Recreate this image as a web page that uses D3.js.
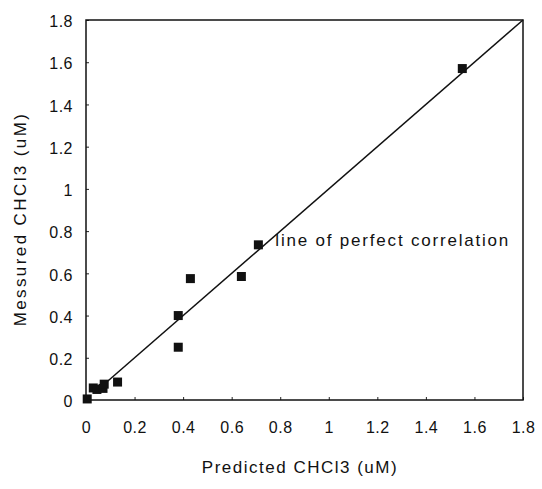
<!DOCTYPE html>
<html>
<head>
<meta charset="utf-8">
<script src="https://cdn.jsdelivr.net/npm/d3@7"></script>
<style>
  body { margin: 0; background: #fff; }
  text { font-family: "Liberation Sans", Arial, sans-serif; fill: #111; }
</style>
</head>
<body>
<div class="container"></div>
<script>
// data
const predicted = [0.005, 0.03, 0.045, 0.07, 0.075, 0.13, 0.38, 0.38, 0.43, 0.64, 0.71, 1.55];
const measured  = [0.005, 0.057, 0.05, 0.055, 0.075, 0.085, 0.40, 0.25, 0.575, 0.585, 0.735, 1.57];
const tickValues = [0, 0.2, 0.4, 0.6, 0.8, 1, 1.2, 1.4, 1.6, 1.8];
const perfectLine = [0.07, 1.8];

const margin = { top: 20, right: 19, bottom: 89, left: 86 };
const width = 542 - margin.left - margin.right;
const hight = 489 - margin.top - margin.bottom;

const canvas = d3.select('.container').append('svg')
    .attr('width', 542)
    .attr('height', 489);

const group = canvas.append('g')
    .attr('transform', `translate(${margin.left}, ${margin.top})`);

// scales
const xScale = d3.scaleLinear().domain([0, 1.8]).range([0, width]);
const yScale = d3.scaleLinear().domain([0, 1.8]).range([hight, 0]);

const fmt = d => d3.format('~g')(d);

// axes, ticks point inward
const xAxis = d3.axisBottom(xScale).tickValues(tickValues).tickSizeInner(-3).tickSizeOuter(0).tickPadding(22).tickFormat(fmt);
const yAxis = d3.axisLeft(yScale).tickValues(tickValues).tickSizeInner(-3).tickSizeOuter(0).tickPadding(13).tickFormat(fmt);

const gx = group.append('g')
    .attr('transform', `translate(0, ${hight})`)
    .call(xAxis);
const gy = group.append('g').call(yAxis);

[gx, gy].forEach(g => {
    g.select('.domain').remove();
    g.selectAll('line').attr('stroke', '#222');
    g.selectAll('text')
        .style('font-size', '16px')
        .style('letter-spacing', '0.5px')
        .attr('fill', '#111');
});
gy.selectAll('text').attr('dy', '0.42em');

// frame
group.append('rect')
    .attr('width', width)
    .attr('height', hight)
    .attr('fill', 'none')
    .attr('stroke', '#111')
    .attr('stroke-width', 1.5);

// line of perfect correlation
group.append('line')
    .attr('x1', xScale(perfectLine[0]))
    .attr('y1', yScale(perfectLine[0]))
    .attr('x2', xScale(perfectLine[1]))
    .attr('y2', yScale(perfectLine[1]))
    .attr('stroke', '#111')
    .attr('stroke-width', 1.5);

group.append('text')
    .attr('x', xScale(0.78))
    .attr('y', yScale(0.735) + 1)
    .style('font-size', '17px')
    .style('letter-spacing', '1.8px')
    .text('line of perfect correlation');

// points
const pts = predicted.map((p, i) => ({ x: p, y: measured[i] }));
const s = 9;
group.selectAll('rect.dot')
    .data(pts)
    .enter()
    .append('rect')
    .attr('class', 'dot')
    .attr('x', d => xScale(d.x) - s / 2)
    .attr('y', d => yScale(d.y) - s / 2)
    .attr('width', s)
    .attr('height', s)
    .attr('fill', '#111');

// axis titles
canvas.append('text')
    .attr('x', 300)
    .attr('y', 473)
    .attr('text-anchor', 'middle')
    .style('font-size', '17px')
    .style('letter-spacing', '1.5px')
    .text('Predicted CHCl3 (uM)');

canvas.append('text')
    .attr('transform', `translate(26, 219) rotate(-90)`)
    .attr('text-anchor', 'middle')
    .style('font-size', '17px')
    .style('letter-spacing', '2.4px')
    .text('Messured CHCl3 (uM)');
</script>
</body>
</html>
